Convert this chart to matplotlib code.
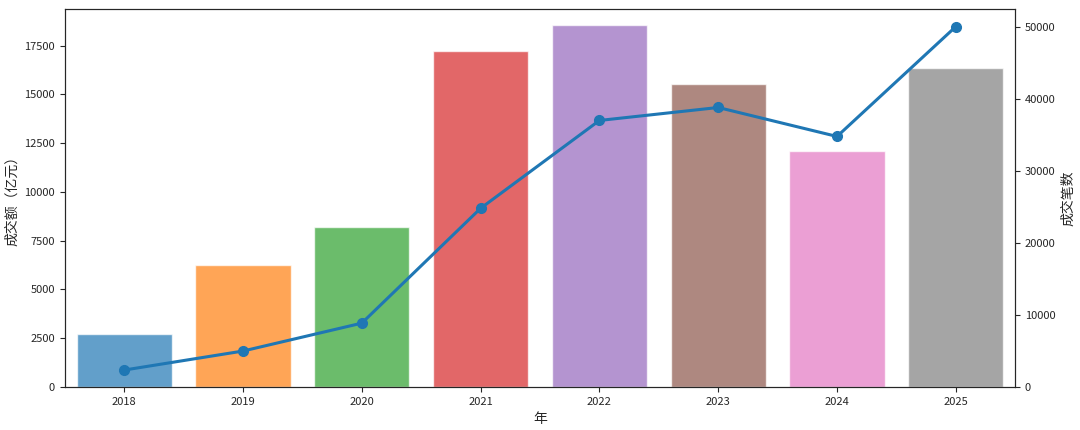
import matplotlib.pyplot as plt
import seaborn as sns

years = ["2018", "2019", "2020", "2021", "2022", "2023", "2024", "2025"]
amount = [2700, 6260, 8180, 17240, 18580, 15530, 12110, 16360]
deals = [2350, 4990, 8860, 24790, 36980, 38780, 34760, 50000]

sns.set_style("ticks")
plt.rcParams["font.family"] = ["Noto Sans CJK SC", "DejaVu Sans"]
plt.rcParams["axes.unicode_minus"] = False

fig, ax = plt.subplots(figsize=(10.8, 4.3), dpi=100)
colors = sns.color_palette("tab10", len(years))
ax.bar(years, amount, color=colors, alpha=0.7, width=0.8)
ax.set_xlabel("年")
ax.set_ylabel("成交额（亿元）")
ax.set_xlim(-0.5, len(years) - 0.5)
ax.tick_params(labelsize=8)

ax2 = ax.twinx()
ax2.plot(years, deals, marker="o", color="#1f77b4", linewidth=2.2, markersize=7)
ax2.set_ylabel("成交笔数")
ax2.set_ylim(0, 52500)
ax2.tick_params(labelsize=8)
ax.set_ylim(0, 19400)

fig.subplots_adjust(left=0.06, right=0.94, top=0.98, bottom=0.1)
fig.savefig("out.png", dpi=100)
